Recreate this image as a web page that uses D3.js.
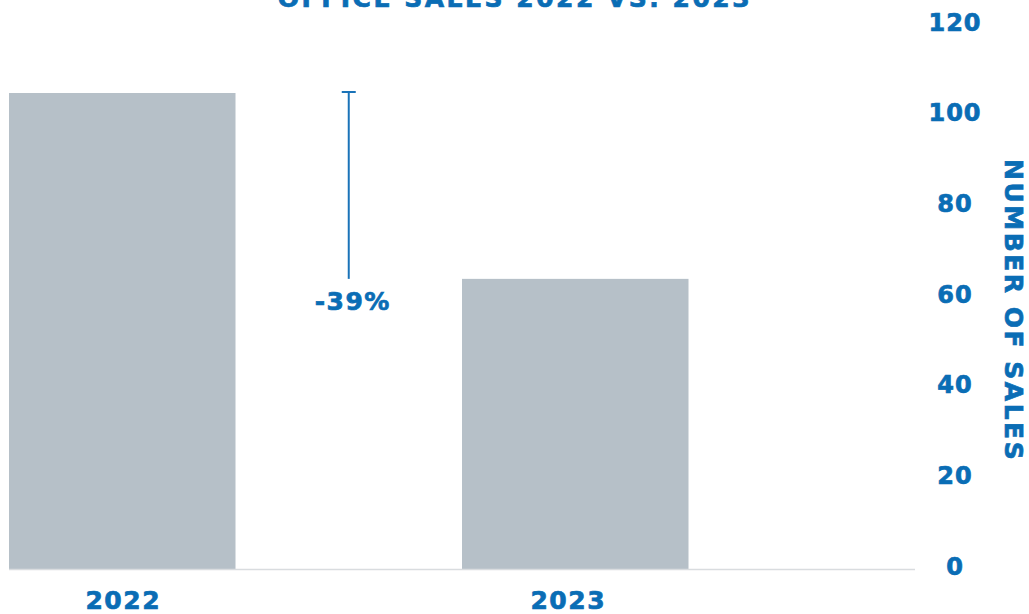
<!DOCTYPE html>
<html>
<head>
<meta charset="utf-8">
<script src="https://cdn.jsdelivr.net/npm/d3@7"></script>
<style>
    body { margin: 0; background: #fff; }
    svg text { font-family: "DejaVu Sans", sans-serif; font-weight: bold; fill: #0a6db5; stroke: #0a6db5; stroke-width: 0.7px; }
</style>
</head>
<body>
<svg id="chart"></svg>
<script>
const years = ['2022', '2023'];
const sales = [105, 64];
const yTicks = [0, 20, 40, 60, 80, 100, 120];
const changeLabel = '-39%';
const title = 'OFFICE SALES 2022 VS. 2023';
const yTitle = 'NUMBER OF SALES';

const width = 1029;
const height = 614;

const svg = d3.select('#chart')
    .attr('width', width)
    .attr('height', height);

// scales
const x = d3.scaleBand()
    .domain(years)
    .range([9, 915])
    .paddingInner(0.5)
    .paddingOuter(0.25)
    .align(0);

const y = d3.scaleLinear()
    .domain([0, 120])
    .range([569, 25]);

// bars
svg.selectAll('rect.bar')
    .data(years)
    .enter()
    .append('rect')
    .attr('class', 'bar')
    .attr('x', d => x(d))
    .attr('y', (d, i) => y(sales[i]))
    .attr('width', x.bandwidth())
    .attr('height', (d, i) => y(0) - y(sales[i]))
    .attr('fill', '#b6c0c8');

// baseline
svg.append('line')
    .attr('x1', x.range()[0])
    .attr('x2', x.range()[1])
    .attr('y1', y(0) + 0.5)
    .attr('y2', y(0) + 0.5)
    .attr('stroke', '#d9dcdf')
    .attr('stroke-width', 1.5);

// category labels (2023 label sits a little left of its bar centre)
const labelShift = [1, -7];
svg.selectAll('text.cat')
    .data(years)
    .enter()
    .append('text')
    .attr('class', 'cat')
    .attr('x', (d, i) => x(d) + x.bandwidth() / 2 + labelShift[i])
    .attr('y', 609)
    .attr('text-anchor', 'middle')
    .style('font-size', '25px')
    .style('letter-spacing', '1.5px')
    .text(d => d);

// right y axis labels
const yAxis = svg.append('g')
    .attr('transform', 'translate(955,0)')
    .call(d3.axisRight(y).tickValues(yTicks).tickSize(0).tickPadding(0));
yAxis.select('.domain').remove();
yAxis.selectAll('text')
    .attr('text-anchor', 'middle')
    .attr('fill', null)
    .attr('dy', '0.22em')
    .style('font-family', '"DejaVu Sans", sans-serif')
    .style('font-weight', 'bold')
    .style('font-size', '24px')
    .style('letter-spacing', '1px');

// y axis title
svg.append('text')
    .attr('transform', `translate(1005,${y(57)}) rotate(90)`)
    .attr('text-anchor', 'middle')
    .style('font-size', '25px')
    .style('letter-spacing', '2.5px')
    .text(yTitle);

// change annotation
const gapX = (x(years[0]) + x.bandwidth() + x(years[1])) / 2;
svg.append('line')
    .attr('x1', gapX).attr('x2', gapX)
    .attr('y1', y(sales[0]) - 1).attr('y2', y(sales[1]))
    .attr('stroke', '#1a73b8')
    .attr('stroke-width', 2);
svg.append('line')
    .attr('x1', gapX - 7).attr('x2', gapX + 7)
    .attr('y1', y(sales[0]) - 1).attr('y2', y(sales[0]) - 1)
    .attr('stroke', '#1a73b8')
    .attr('stroke-width', 2);
svg.append('text')
    .attr('x', gapX + 4)
    .attr('y', 310)
    .attr('text-anchor', 'middle')
    .style('font-size', '25px')
    .style('letter-spacing', '1.5px')
    .text(changeLabel);

// title (clipped at top, as in the source)
svg.append('text')
    .attr('x', 515)
    .attr('y', 7)
    .attr('text-anchor', 'middle')
    .style('font-size', '25px')
    .style('letter-spacing', '2.5px')
    .text(title);
</script>
</body>
</html>
